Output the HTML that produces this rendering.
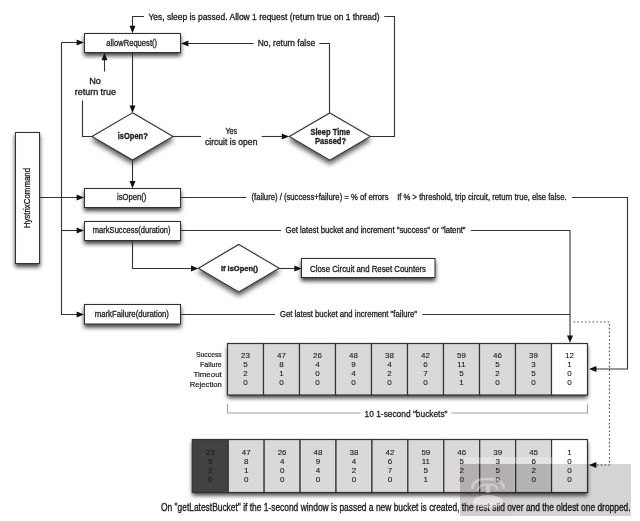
<!DOCTYPE html>
<html><head><meta charset="utf-8"><style>
html,body{margin:0;padding:0;background:#fff;}
body{width:640px;height:521px;overflow:hidden;}
svg{display:block;font-family:"Liberation Sans",sans-serif;will-change:transform;}
</style></head><body>
<svg width="640" height="521" viewBox="0 0 640 521">
<defs><filter id="sh" x="-20%" y="-50%" width="140%" height="200%"><feDropShadow dx="0" dy="3" stdDeviation="2.2" flood-color="#000" flood-opacity="0.75"/></filter><filter id="sh2" x="-20%" y="-30%" width="140%" height="170%"><feDropShadow dx="0" dy="3.5" stdDeviation="2.6" flood-color="#000" flood-opacity="0.65"/></filter></defs>
<path d="M370,136.5 L394.5,136.5 L394.5,16.5 L384.3,16.5" fill="none" stroke="#333" stroke-width="1.1"/>
<text x="148.4" y="19.6" font-size="8.2" font-weight="normal" fill="#1e1e1e" stroke="#1e1e1e" stroke-width="0.3" textLength="231.2" lengthAdjust="spacingAndGlyphs">Yes, sleep is passed.  Allow 1 request (return true on 1 thread)</text>
<path d="M144,16.5 L132.5,16.5 L132.5,27" fill="none" stroke="#333" stroke-width="1.1"/>
<path d="M132.5,33.2 L129.5,25.8 L135.5,25.8Z" fill="#111"/>
<rect x="84.5" y="33.5" width="96.0" height="19.0" fill="#fff" stroke="#333" stroke-width="1.05" filter="url(#sh)"/>
<text x="106.3" y="45.9" font-size="8.5" font-weight="normal" fill="#1e1e1e" stroke="#1e1e1e" stroke-width="0.3" textLength="50.8" lengthAdjust="spacingAndGlyphs">allowRequest()</text>
<path d="M61.5,42.5 L61.5,314.5 L78,314.5" fill="none" stroke="#333" stroke-width="1.1"/>
<path d="M61.5,42.5 L78,42.5" fill="none" stroke="#333" stroke-width="1.1"/>
<path d="M84,42.5 L76.6,39.5 L76.6,45.5Z" fill="#111"/>
<path d="M61.5,230.5 L78,230.5" fill="none" stroke="#333" stroke-width="1.1"/>
<path d="M84,230.5 L76.6,227.5 L76.6,233.5Z" fill="#111"/>
<path d="M84,314.5 L76.6,311.5 L76.6,317.5Z" fill="#111"/>
<path d="M329.5,113 L329.5,43.5 L319.3,43.5" fill="none" stroke="#333" stroke-width="1.1"/>
<text x="257.7" y="46" font-size="8.2" font-weight="normal" fill="#1e1e1e" stroke="#1e1e1e" stroke-width="0.3" textLength="57.4" lengthAdjust="spacingAndGlyphs">No, return false</text>
<path d="M253.5,43.5 L187,43.5" fill="none" stroke="#333" stroke-width="1.1"/>
<path d="M181,43.5 L188.4,40.5 L188.4,46.5Z" fill="#111"/>
<path d="M132.5,52.5 L132.5,107" fill="none" stroke="#333" stroke-width="1.1"/>
<path d="M132.5,113 L129.5,105.6 L135.5,105.6Z" fill="#111"/>
<path d="M132.5,112.8 L173.0,136.4 L132.5,160.0 L92.0,136.4 Z" fill="#fff" stroke="#333" stroke-width="1.1" filter="url(#sh2)"/>
<text x="117.7" y="139" font-size="8.4" font-weight="bold" fill="#1e1e1e" stroke="#1e1e1e" stroke-width="0.3" textLength="30.1" lengthAdjust="spacingAndGlyphs">isOpen?</text>
<path d="M92,136.5 L82.5,136.5 L82.5,100.5" fill="none" stroke="#333" stroke-width="1.1"/>
<text x="89.2" y="84" font-size="8.2" font-weight="normal" fill="#1e1e1e" stroke="#1e1e1e" stroke-width="0.3" textLength="11.7" lengthAdjust="spacingAndGlyphs">No</text>
<text x="74.7" y="94.8" font-size="8.2" font-weight="normal" fill="#1e1e1e" stroke="#1e1e1e" stroke-width="0.3" textLength="41.4" lengthAdjust="spacingAndGlyphs">return true</text>
<path d="M104.5,71.5 L104.5,59" fill="none" stroke="#333" stroke-width="1.1"/>
<path d="M104.5,52.8 L101.5,60.2 L107.5,60.2Z" fill="#111"/>
<path d="M172.8,136.5 L201,136.5" fill="none" stroke="#333" stroke-width="1.1"/>
<text x="225.4" y="133.8" font-size="8.2" font-weight="normal" fill="#1e1e1e" stroke="#1e1e1e" stroke-width="0.3" textLength="11.7" lengthAdjust="spacingAndGlyphs">Yes</text>
<text x="205" y="145" font-size="8.2" font-weight="normal" fill="#1e1e1e" stroke="#1e1e1e" stroke-width="0.3" textLength="52.4" lengthAdjust="spacingAndGlyphs">circuit is open</text>
<path d="M261.7,136.5 L283,136.5" fill="none" stroke="#333" stroke-width="1.1"/>
<path d="M289.2,136.5 L281.8,133.5 L281.8,139.5Z" fill="#111"/>
<path d="M329.8,113.0 L370.3,136.6 L329.8,160.2 L289.3,136.6 Z" fill="#fff" stroke="#333" stroke-width="1.1" filter="url(#sh2)"/>
<text x="310.5" y="134.65" font-size="8.3" font-weight="bold" fill="#1e1e1e" stroke="#1e1e1e" stroke-width="0.3" textLength="39.6" lengthAdjust="spacingAndGlyphs">Sleep Time</text>
<text x="315" y="143.6" font-size="8.3" font-weight="bold" fill="#1e1e1e" stroke="#1e1e1e" stroke-width="0.3" textLength="31.1" lengthAdjust="spacingAndGlyphs">Passed?</text>
<path d="M132.5,160 L132.5,182" fill="none" stroke="#333" stroke-width="1.1"/>
<path d="M132.5,188.3 L129.5,180.9 L135.5,180.9Z" fill="#111"/>
<rect x="15.5" y="132.5" width="24.0" height="131.0" fill="#fff" stroke="#333" stroke-width="1.05" filter="url(#sh)"/>
<text x="0" y="0" font-size="8.4" fill="#1e1e1e" stroke="#1e1e1e" stroke-width="0.3" transform="translate(30.1,228.3) rotate(-90)" textLength="60.4" lengthAdjust="spacingAndGlyphs">HystrixCommand</text>
<path d="M39.5,197.5 L78,197.5" fill="none" stroke="#333" stroke-width="1.1"/>
<path d="M84,197.5 L76.6,194.5 L76.6,200.5Z" fill="#111"/>
<rect x="84.5" y="188.5" width="96.0" height="19.0" fill="#fff" stroke="#333" stroke-width="1.05" filter="url(#sh)"/>
<text x="117" y="200.2" font-size="8.2" font-weight="normal" fill="#1e1e1e" stroke="#1e1e1e" stroke-width="0.3" textLength="29.3" lengthAdjust="spacingAndGlyphs">isOpen()</text>
<path d="M180.5,197.5 L246.3,197.5" fill="none" stroke="#333" stroke-width="1.1"/>
<text x="251.5" y="200" font-size="8.2" font-weight="normal" fill="#1e1e1e" stroke="#1e1e1e" stroke-width="0.3" textLength="137.0" lengthAdjust="spacingAndGlyphs">(failure) / (success+failure) = % of errors</text>
<text x="397.2" y="200.2" font-size="8.2" font-weight="normal" fill="#1e1e1e" stroke="#1e1e1e" stroke-width="0.3" textLength="169.4" lengthAdjust="spacingAndGlyphs">If % &gt; threshold, trip circuit, return true, else false.</text>
<path d="M572,197.5 L627.5,197.5 L627.5,369 L595,369" fill="none" stroke="#333" stroke-width="1.1"/>
<path d="M589,369 L596.4,366 L596.4,372Z" fill="#111"/>
<rect x="84.5" y="221.5" width="96.0" height="19.0" fill="#fff" stroke="#333" stroke-width="1.05" filter="url(#sh)"/>
<text x="92.8" y="233.3" font-size="8.2" font-weight="normal" fill="#1e1e1e" stroke="#1e1e1e" stroke-width="0.3" textLength="77.8" lengthAdjust="spacingAndGlyphs">markSuccess(duration)</text>
<path d="M180.5,230.5 L281,230.5" fill="none" stroke="#333" stroke-width="1.1"/>
<text x="285.5" y="233.25" font-size="8.2" font-weight="normal" fill="#1e1e1e" stroke="#1e1e1e" stroke-width="0.3" textLength="180.1" lengthAdjust="spacingAndGlyphs">Get latest bucket and increment "success" or "latent"</text>
<path d="M471,230.5 L570,230.5 L570,336" fill="none" stroke="#333" stroke-width="1.1"/>
<path d="M570,342.8 L567,335.4 L573,335.4Z" fill="#111"/>
<path d="M132.5,240.5 L132.5,268.5 L192,268.5" fill="none" stroke="#333" stroke-width="1.1"/>
<path d="M198.4,268.5 L191.0,265.5 L191.0,271.5Z" fill="#111"/>
<path d="M238.8,244.5 L279.2,268.2 L238.8,291.9 L198.4,268.2 Z" fill="#fff" stroke="#333" stroke-width="1.1" filter="url(#sh2)"/>
<text x="220.9" y="270.7" font-size="7.9" font-weight="bold" fill="#1e1e1e" stroke="#1e1e1e" stroke-width="0.35" textLength="37.1" lengthAdjust="spacingAndGlyphs">If isOpen()</text>
<path d="M279,268.5 L295.5,268.5" fill="none" stroke="#333" stroke-width="1.1"/>
<path d="M301.8,268.5 L294.4,265.5 L294.4,271.5Z" fill="#111"/>
<rect x="301.5" y="258.5" width="133.5" height="19.0" fill="#fff" stroke="#333" stroke-width="1.05" filter="url(#sh)"/>
<text x="310" y="271.6" font-size="8.2" font-weight="normal" fill="#1e1e1e" stroke="#1e1e1e" stroke-width="0.3" textLength="116" lengthAdjust="spacingAndGlyphs">Close Circuit and Reset Counters</text>
<rect x="84.5" y="304.5" width="96.0" height="19.5" fill="#fff" stroke="#333" stroke-width="1.05" filter="url(#sh)"/>
<text x="94.7" y="317.2" font-size="8.2" font-weight="normal" fill="#1e1e1e" stroke="#1e1e1e" stroke-width="0.3" textLength="74.2" lengthAdjust="spacingAndGlyphs">markFailure(duration)</text>
<path d="M180.5,314.5 L275,314.5" fill="none" stroke="#333" stroke-width="1.1"/>
<text x="280" y="317" font-size="8.2" font-weight="normal" fill="#1e1e1e" stroke="#1e1e1e" stroke-width="0.3" textLength="137" lengthAdjust="spacingAndGlyphs">Get latest bucket and increment "failure"</text>
<path d="M422.5,314.5 L570,314.5" fill="none" stroke="#333" stroke-width="1.1"/>
<path d="M573.5,322 L609.5,322 L609.5,465 L595,465" fill="none" stroke="#555" stroke-width="1.2" stroke-dasharray="1.6,2.2"/>
<path d="M589,465 L596.4,462 L596.4,468Z" fill="#111"/>
<rect x="227.5" y="343.5" width="360" height="51.5" fill="#d9d9d9" stroke="none" filter="url(#sh)"/>
<rect x="227.5" y="343.5" width="36" height="51.5" fill="#d9d9d9" stroke="#333" stroke-width="1.2"/>
<text x="245.5" y="358.3" font-size="8" text-anchor="middle" fill="#151515" stroke="#151515" stroke-width="0.08">23</text>
<text x="245.5" y="367.1" font-size="8" text-anchor="middle" fill="#151515" stroke="#151515" stroke-width="0.08">5</text>
<text x="245.5" y="376.1" font-size="8" text-anchor="middle" fill="#151515" stroke="#151515" stroke-width="0.08">2</text>
<text x="245.5" y="385.1" font-size="8" text-anchor="middle" fill="#151515" stroke="#151515" stroke-width="0.08">0</text>
<rect x="263.5" y="343.5" width="36" height="51.5" fill="#d9d9d9" stroke="#333" stroke-width="1.2"/>
<text x="281.5" y="358.3" font-size="8" text-anchor="middle" fill="#151515" stroke="#151515" stroke-width="0.08">47</text>
<text x="281.5" y="367.1" font-size="8" text-anchor="middle" fill="#151515" stroke="#151515" stroke-width="0.08">8</text>
<text x="281.5" y="376.1" font-size="8" text-anchor="middle" fill="#151515" stroke="#151515" stroke-width="0.08">1</text>
<text x="281.5" y="385.1" font-size="8" text-anchor="middle" fill="#151515" stroke="#151515" stroke-width="0.08">0</text>
<rect x="299.5" y="343.5" width="36" height="51.5" fill="#d9d9d9" stroke="#333" stroke-width="1.2"/>
<text x="317.5" y="358.3" font-size="8" text-anchor="middle" fill="#151515" stroke="#151515" stroke-width="0.08">26</text>
<text x="317.5" y="367.1" font-size="8" text-anchor="middle" fill="#151515" stroke="#151515" stroke-width="0.08">4</text>
<text x="317.5" y="376.1" font-size="8" text-anchor="middle" fill="#151515" stroke="#151515" stroke-width="0.08">0</text>
<text x="317.5" y="385.1" font-size="8" text-anchor="middle" fill="#151515" stroke="#151515" stroke-width="0.08">0</text>
<rect x="335.5" y="343.5" width="36" height="51.5" fill="#d9d9d9" stroke="#333" stroke-width="1.2"/>
<text x="353.5" y="358.3" font-size="8" text-anchor="middle" fill="#151515" stroke="#151515" stroke-width="0.08">48</text>
<text x="353.5" y="367.1" font-size="8" text-anchor="middle" fill="#151515" stroke="#151515" stroke-width="0.08">9</text>
<text x="353.5" y="376.1" font-size="8" text-anchor="middle" fill="#151515" stroke="#151515" stroke-width="0.08">4</text>
<text x="353.5" y="385.1" font-size="8" text-anchor="middle" fill="#151515" stroke="#151515" stroke-width="0.08">0</text>
<rect x="371.5" y="343.5" width="36" height="51.5" fill="#d9d9d9" stroke="#333" stroke-width="1.2"/>
<text x="389.5" y="358.3" font-size="8" text-anchor="middle" fill="#151515" stroke="#151515" stroke-width="0.08">38</text>
<text x="389.5" y="367.1" font-size="8" text-anchor="middle" fill="#151515" stroke="#151515" stroke-width="0.08">4</text>
<text x="389.5" y="376.1" font-size="8" text-anchor="middle" fill="#151515" stroke="#151515" stroke-width="0.08">2</text>
<text x="389.5" y="385.1" font-size="8" text-anchor="middle" fill="#151515" stroke="#151515" stroke-width="0.08">0</text>
<rect x="407.5" y="343.5" width="36" height="51.5" fill="#d9d9d9" stroke="#333" stroke-width="1.2"/>
<text x="425.5" y="358.3" font-size="8" text-anchor="middle" fill="#151515" stroke="#151515" stroke-width="0.08">42</text>
<text x="425.5" y="367.1" font-size="8" text-anchor="middle" fill="#151515" stroke="#151515" stroke-width="0.08">6</text>
<text x="425.5" y="376.1" font-size="8" text-anchor="middle" fill="#151515" stroke="#151515" stroke-width="0.08">7</text>
<text x="425.5" y="385.1" font-size="8" text-anchor="middle" fill="#151515" stroke="#151515" stroke-width="0.08">0</text>
<rect x="443.5" y="343.5" width="36" height="51.5" fill="#d9d9d9" stroke="#333" stroke-width="1.2"/>
<text x="461.5" y="358.3" font-size="8" text-anchor="middle" fill="#151515" stroke="#151515" stroke-width="0.08">59</text>
<text x="461.5" y="367.1" font-size="8" text-anchor="middle" fill="#151515" stroke="#151515" stroke-width="0.08">11</text>
<text x="461.5" y="376.1" font-size="8" text-anchor="middle" fill="#151515" stroke="#151515" stroke-width="0.08">5</text>
<text x="461.5" y="385.1" font-size="8" text-anchor="middle" fill="#151515" stroke="#151515" stroke-width="0.08">1</text>
<rect x="479.5" y="343.5" width="36" height="51.5" fill="#d9d9d9" stroke="#333" stroke-width="1.2"/>
<text x="497.5" y="358.3" font-size="8" text-anchor="middle" fill="#151515" stroke="#151515" stroke-width="0.08">46</text>
<text x="497.5" y="367.1" font-size="8" text-anchor="middle" fill="#151515" stroke="#151515" stroke-width="0.08">5</text>
<text x="497.5" y="376.1" font-size="8" text-anchor="middle" fill="#151515" stroke="#151515" stroke-width="0.08">2</text>
<text x="497.5" y="385.1" font-size="8" text-anchor="middle" fill="#151515" stroke="#151515" stroke-width="0.08">0</text>
<rect x="515.5" y="343.5" width="36" height="51.5" fill="#d9d9d9" stroke="#333" stroke-width="1.2"/>
<text x="533.5" y="358.3" font-size="8" text-anchor="middle" fill="#151515" stroke="#151515" stroke-width="0.08">39</text>
<text x="533.5" y="367.1" font-size="8" text-anchor="middle" fill="#151515" stroke="#151515" stroke-width="0.08">3</text>
<text x="533.5" y="376.1" font-size="8" text-anchor="middle" fill="#151515" stroke="#151515" stroke-width="0.08">5</text>
<text x="533.5" y="385.1" font-size="8" text-anchor="middle" fill="#151515" stroke="#151515" stroke-width="0.08">0</text>
<rect x="551.5" y="343.5" width="36" height="51.5" fill="#ffffff" stroke="#333" stroke-width="1.2"/>
<text x="569.5" y="358.3" font-size="8" text-anchor="middle" fill="#151515" stroke="#151515" stroke-width="0.08">12</text>
<text x="569.5" y="367.1" font-size="8" text-anchor="middle" fill="#151515" stroke="#151515" stroke-width="0.08">1</text>
<text x="569.5" y="376.1" font-size="8" text-anchor="middle" fill="#151515" stroke="#151515" stroke-width="0.08">0</text>
<text x="569.5" y="385.1" font-size="8" text-anchor="middle" fill="#151515" stroke="#151515" stroke-width="0.08">0</text>
<text x="195.9" y="356.8" font-size="8.1" font-weight="normal" fill="#1e1e1e" stroke="#1e1e1e" stroke-width="0.22" textLength="25.9" lengthAdjust="spacingAndGlyphs">Success</text>
<text x="200" y="366.7" font-size="8.1" font-weight="normal" fill="#1e1e1e" stroke="#1e1e1e" stroke-width="0.22" textLength="21.8" lengthAdjust="spacingAndGlyphs">Failure</text>
<text x="193.4" y="376.7" font-size="8.1" font-weight="normal" fill="#1e1e1e" stroke="#1e1e1e" stroke-width="0.22" textLength="28.4" lengthAdjust="spacingAndGlyphs">Timeout</text>
<text x="189.8" y="386.6" font-size="8.1" font-weight="normal" fill="#1e1e1e" stroke="#1e1e1e" stroke-width="0.22" textLength="32.0" lengthAdjust="spacingAndGlyphs">Rejection</text>
<path d="M227.5,404 L227.5,413 L360.3,413" fill="none" stroke="#a0a0a0" stroke-width="1.1"/>
<text x="364.6" y="416.6" font-size="9.5" font-weight="normal" fill="#1e1e1e" stroke="#1e1e1e" stroke-width="0.3" textLength="83.0" lengthAdjust="spacingAndGlyphs">10 1-second "buckets"</text>
<path d="M451.3,413 L587.5,413 L587.5,404" fill="none" stroke="#a0a0a0" stroke-width="1.1"/>
<rect x="192.3" y="439.5" width="395.2" height="53.0" fill="#d9d9d9" stroke="none" filter="url(#sh)"/>
<rect x="192.30" y="439.5" width="35.93" height="53.0" fill="#424242" stroke="#333" stroke-width="1.2"/>
<rect x="228.23" y="439.5" width="35.93" height="53.0" fill="#d9d9d9" stroke="#333" stroke-width="1.2"/>
<rect x="264.15" y="439.5" width="35.93" height="53.0" fill="#d9d9d9" stroke="#333" stroke-width="1.2"/>
<rect x="300.08" y="439.5" width="35.93" height="53.0" fill="#d9d9d9" stroke="#333" stroke-width="1.2"/>
<rect x="336.01" y="439.5" width="35.93" height="53.0" fill="#d9d9d9" stroke="#333" stroke-width="1.2"/>
<rect x="371.94" y="439.5" width="35.93" height="53.0" fill="#d9d9d9" stroke="#333" stroke-width="1.2"/>
<rect x="407.86" y="439.5" width="35.93" height="53.0" fill="#d9d9d9" stroke="#333" stroke-width="1.2"/>
<rect x="443.79" y="439.5" width="35.93" height="53.0" fill="#d9d9d9" stroke="#333" stroke-width="1.2"/>
<rect x="479.72" y="439.5" width="35.93" height="53.0" fill="#d9d9d9" stroke="#333" stroke-width="1.2"/>
<rect x="515.65" y="439.5" width="35.93" height="53.0" fill="#d9d9d9" stroke="#333" stroke-width="1.2"/>
<rect x="551.57" y="439.5" width="35.93" height="53.0" fill="#ffffff" stroke="#333" stroke-width="1.2"/>
<rect x="460" y="457.2" width="92" height="6.6" fill="#fff" opacity="0.3"/>
<text x="210.26" y="455" font-size="8" text-anchor="middle" fill="#1c1c1c" stroke="#1c1c1c" stroke-width="0.08">23</text>
<text x="210.26" y="464.2" font-size="8" text-anchor="middle" fill="#1c1c1c" stroke="#1c1c1c" stroke-width="0.08">5</text>
<text x="210.26" y="473.3" font-size="8" text-anchor="middle" fill="#1c1c1c" stroke="#1c1c1c" stroke-width="0.08">2</text>
<text x="210.26" y="482.4" font-size="8" text-anchor="middle" fill="#1c1c1c" stroke="#1c1c1c" stroke-width="0.08">0</text>
<text x="246.19" y="455" font-size="8" text-anchor="middle" fill="#151515" stroke="#151515" stroke-width="0.08">47</text>
<text x="246.19" y="464.2" font-size="8" text-anchor="middle" fill="#151515" stroke="#151515" stroke-width="0.08">8</text>
<text x="246.19" y="473.3" font-size="8" text-anchor="middle" fill="#151515" stroke="#151515" stroke-width="0.08">1</text>
<text x="246.19" y="482.4" font-size="8" text-anchor="middle" fill="#151515" stroke="#151515" stroke-width="0.08">0</text>
<text x="282.12" y="455" font-size="8" text-anchor="middle" fill="#151515" stroke="#151515" stroke-width="0.08">26</text>
<text x="282.12" y="464.2" font-size="8" text-anchor="middle" fill="#151515" stroke="#151515" stroke-width="0.08">4</text>
<text x="282.12" y="473.3" font-size="8" text-anchor="middle" fill="#151515" stroke="#151515" stroke-width="0.08">0</text>
<text x="282.12" y="482.4" font-size="8" text-anchor="middle" fill="#151515" stroke="#151515" stroke-width="0.08">0</text>
<text x="318.05" y="455" font-size="8" text-anchor="middle" fill="#151515" stroke="#151515" stroke-width="0.08">48</text>
<text x="318.05" y="464.2" font-size="8" text-anchor="middle" fill="#151515" stroke="#151515" stroke-width="0.08">9</text>
<text x="318.05" y="473.3" font-size="8" text-anchor="middle" fill="#151515" stroke="#151515" stroke-width="0.08">4</text>
<text x="318.05" y="482.4" font-size="8" text-anchor="middle" fill="#151515" stroke="#151515" stroke-width="0.08">0</text>
<text x="353.97" y="455" font-size="8" text-anchor="middle" fill="#151515" stroke="#151515" stroke-width="0.08">38</text>
<text x="353.97" y="464.2" font-size="8" text-anchor="middle" fill="#151515" stroke="#151515" stroke-width="0.08">4</text>
<text x="353.97" y="473.3" font-size="8" text-anchor="middle" fill="#151515" stroke="#151515" stroke-width="0.08">2</text>
<text x="353.97" y="482.4" font-size="8" text-anchor="middle" fill="#151515" stroke="#151515" stroke-width="0.08">0</text>
<text x="389.9" y="455" font-size="8" text-anchor="middle" fill="#151515" stroke="#151515" stroke-width="0.08">42</text>
<text x="389.9" y="464.2" font-size="8" text-anchor="middle" fill="#151515" stroke="#151515" stroke-width="0.08">6</text>
<text x="389.9" y="473.3" font-size="8" text-anchor="middle" fill="#151515" stroke="#151515" stroke-width="0.08">7</text>
<text x="389.9" y="482.4" font-size="8" text-anchor="middle" fill="#151515" stroke="#151515" stroke-width="0.08">0</text>
<text x="425.83" y="455" font-size="8" text-anchor="middle" fill="#151515" stroke="#151515" stroke-width="0.08">59</text>
<text x="425.83" y="464.2" font-size="8" text-anchor="middle" fill="#151515" stroke="#151515" stroke-width="0.08">11</text>
<text x="425.83" y="473.3" font-size="8" text-anchor="middle" fill="#151515" stroke="#151515" stroke-width="0.08">5</text>
<text x="425.83" y="482.4" font-size="8" text-anchor="middle" fill="#151515" stroke="#151515" stroke-width="0.08">1</text>
<text x="461.75" y="455" font-size="8" text-anchor="middle" fill="#151515" stroke="#151515" stroke-width="0.08">46</text>
<text x="461.75" y="464.2" font-size="8" text-anchor="middle" fill="#151515" stroke="#151515" stroke-width="0.08">5</text>
<text x="461.75" y="473.3" font-size="8" text-anchor="middle" fill="#151515" stroke="#151515" stroke-width="0.08">2</text>
<text x="461.75" y="482.4" font-size="8" text-anchor="middle" fill="#151515" stroke="#151515" stroke-width="0.08">0</text>
<text x="497.68" y="455" font-size="8" text-anchor="middle" fill="#151515" stroke="#151515" stroke-width="0.08">39</text>
<text x="497.68" y="464.2" font-size="8" text-anchor="middle" fill="#151515" stroke="#151515" stroke-width="0.08">3</text>
<text x="497.68" y="473.3" font-size="8" text-anchor="middle" fill="#151515" stroke="#151515" stroke-width="0.08">5</text>
<text x="497.68" y="482.4" font-size="8" text-anchor="middle" fill="#151515" stroke="#151515" stroke-width="0.08">0</text>
<text x="533.61" y="455" font-size="8" text-anchor="middle" fill="#151515" stroke="#151515" stroke-width="0.08">45</text>
<text x="533.61" y="464.2" font-size="8" text-anchor="middle" fill="#151515" stroke="#151515" stroke-width="0.08">6</text>
<text x="533.61" y="473.3" font-size="8" text-anchor="middle" fill="#151515" stroke="#151515" stroke-width="0.08">2</text>
<text x="533.61" y="482.4" font-size="8" text-anchor="middle" fill="#151515" stroke="#151515" stroke-width="0.08">0</text>
<text x="569.54" y="455" font-size="8" text-anchor="middle" fill="#151515" stroke="#151515" stroke-width="0.08">1</text>
<text x="569.54" y="464.2" font-size="8" text-anchor="middle" fill="#151515" stroke="#151515" stroke-width="0.08">0</text>
<text x="569.54" y="473.3" font-size="8" text-anchor="middle" fill="#151515" stroke="#151515" stroke-width="0.08">0</text>
<text x="569.54" y="482.4" font-size="8" text-anchor="middle" fill="#151515" stroke="#151515" stroke-width="0.08">0</text>
<text x="161" y="511" font-size="10.2" font-weight="normal" fill="#1e1e1e" stroke="#1e1e1e" stroke-width="0.35" textLength="469.6" lengthAdjust="spacingAndGlyphs">On "getLatestBucket" if the 1-second window is passed a new bucket is created, the rest slid over and the oldest one dropped.</text>
<rect x="460" y="464" width="171" height="52" fill="#000" opacity="0.17"/>
<rect x="460" y="464" width="52" height="52" fill="#c06060" opacity="0.06"/>
<g opacity="0.35" fill="none" stroke="#fff">
<path d="M472,489 Q473,478 488,479 Q503,478 504,489" stroke-width="2.5"/>
<path d="M478,490 Q479,484 488,485 Q497,484 498,490" stroke-width="2"/>
<path d="M488,484 L488,493" stroke-width="4"/>
</g>
<ellipse cx="488" cy="501.5" rx="15" ry="6.5" fill="#fff" opacity="0.45"/>
</svg></body></html>
